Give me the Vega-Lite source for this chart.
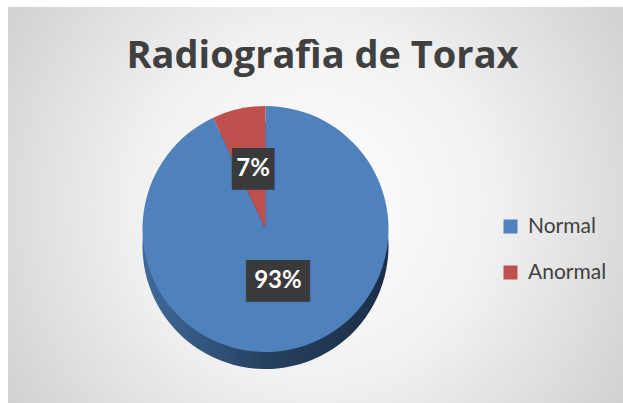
{
  "$schema": "https://vega.github.io/schema/vega-lite/v6.json",
  "autosize": "none",
  "width": 615,
  "height": 396,
  "padding": {"left": 8, "top": 7, "right": 0, "bottom": 0},
  "background": "white",
  "title": {
    "text": "Radiograf‌ìa de Torax",
    "font": "Open Sans",
    "fontSize": 38,
    "fontWeight": "bold",
    "color": "#404040",
    "anchor": "middle",
    "frame": "group",
    "baseline": "alphabetic",
    "offset": -99,
    "dx": 7
  },
  "config": {"view": {"stroke": null}},
  "data": {
    "values": [
      {"category": "Normal", "value": 93, "label": "93%", "idx": 1},
      {"category": "Anormal", "value": 7, "label": "7%", "idx": 2}
    ]
  },
  "layer": [
    {
      "data": {"values": [{}]},
      "mark": {
        "type": "rect",
        "fill": {
          "gradient": "radial",
          "x1": 0.5, "y1": 0.5, "r1": 0,
          "x2": 0.5, "y2": 0.5, "r2": 0.72,
          "stops": [
            {"offset": 0, "color": "#ffffff"},
            {"offset": 0.4, "color": "#f1f1f1"},
            {"offset": 1, "color": "#c4c4c4"}
          ]
        }
      },
      "encoding": {}
    },
    {
      "mark": {
        "type": "arc",
        "radius": 123,
        "xOffset": -50,
        "yOffset": 41,
        "fill": {
          "gradient": "linear",
          "x1": 0, "y1": 0, "x2": 1, "y2": 0,
          "stops": [
            {"offset": 0, "color": "#3f6a9c"},
            {"offset": 0.5, "color": "#26405f"},
            {"offset": 1, "color": "#1c2e45"}
          ]
        }
      },
      "encoding": {
        "theta": {"field": "value", "type": "quantitative", "stack": true},
        "order": {"field": "idx", "type": "ordinal"}
      }
    },
    {
      "mark": {"type": "arc", "radius": 123, "xOffset": -50, "yOffset": 24},
      "encoding": {
        "theta": {"field": "value", "type": "quantitative", "stack": true},
        "order": {"field": "idx", "type": "ordinal"},
        "color": {
          "field": "category",
          "type": "nominal",
          "scale": {"domain": ["Normal", "Anormal"], "range": ["#4f81bd", "#c0504d"]},
          "legend": {
            "title": null,
            "orient": "none",
            "legendX": 492,
            "legendY": 209,
            "padding": 0,
            "symbolType": "square",
            "symbolSize": 196,
            "symbolStrokeWidth": 0,
            "labelFont": "Lato",
            "labelFontSize": 21,
            "labelColor": "#404040",
            "labelOffset": 7,
            "rowPadding": 24
          }
        }
      }
    },
    {
      "mark": {
        "type": "text",
        "radius": 57,
        "xOffset": -50,
        "yOffset": 20,
        "font": "DejaVu Sans Mono",
        "fontSize": 35,
        "baseline": "middle",
        "dy": 1,
        "fill": "#3a3a3a"
      },
      "encoding": {
        "theta": {"field": "value", "type": "quantitative", "stack": true},
        "order": {"field": "idx", "type": "ordinal"},
        "text": {
          "condition": {"test": "datum.category === 'Normal'", "value": "███"},
          "value": "██"
        }
      }
    },
    {
      "mark": {
        "type": "text",
        "radius": 57,
        "xOffset": -50,
        "yOffset": 20,
        "font": "Lato",
        "fontSize": 24,
        "fontWeight": "bold",
        "baseline": "middle",
        "fill": "white"
      },
      "encoding": {
        "theta": {"field": "value", "type": "quantitative", "stack": true},
        "order": {"field": "idx", "type": "ordinal"},
        "text": {"field": "label", "type": "nominal"}
      }
    }
  ]
}
